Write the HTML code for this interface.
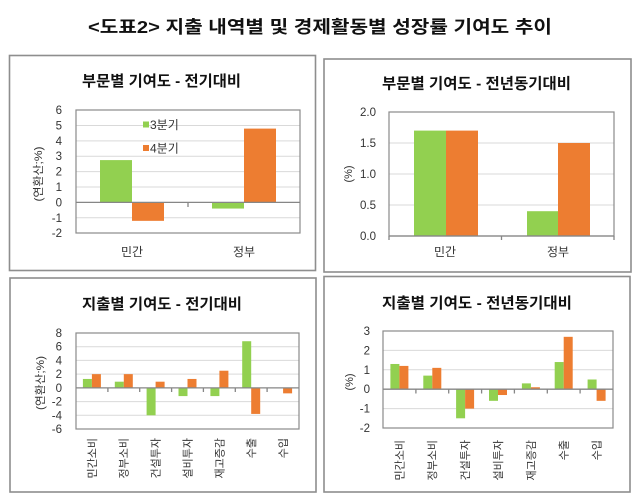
<!DOCTYPE html>
<html><head><meta charset="utf-8"><style>
html,body{margin:0;padding:0;background:#fff;}
svg{display:block;}
text{font-family:"Liberation Sans","Noto Sans CJK KR","NanumGothic",sans-serif;}
.t{font-weight:bold;fill:#111;}
.tk{font-size:11.5px;fill:#333;}
.lb{font-size:12px;fill:#333;}
.xl{font-size:11px;fill:#333;}
.g{fill:#92d050;}
.o{fill:#ed7d31;}
.grid{stroke:#d9d9d9;stroke-width:1;}
.pb{fill:none;stroke:#8a8a8a;stroke-width:1.2;}
.ax{stroke:#868686;stroke-width:1.3;}
.pn{fill:#fff;stroke:#8e8e8e;stroke-width:1.6;}
</style></head><body>
<svg width="639" height="499" viewBox="0 0 639 499" xmlns="http://www.w3.org/2000/svg">
<rect x="0" y="0" width="639" height="499" fill="#fff"/>
<text class="t" x="88" y="33" font-size="17.5" textLength="464" lengthAdjust="spacingAndGlyphs">&lt;도표2&gt; 지출 내역별 및 경제활동별 성장률 기여도 추이</text>

<!-- Panels -->
<rect class="pn" x="9.5" y="55.5" width="306" height="215"/>
<rect class="pn" x="324" y="59" width="307" height="213"/>
<rect class="pn" x="10" y="278" width="306" height="214"/>
<rect class="pn" x="324" y="276.5" width="306" height="215.5"/>

<!-- ========== TL ========== -->
<text class="t" x="82" y="86" font-size="15" textLength="159" lengthAdjust="spacingAndGlyphs">부문별 기여도 - 전기대비</text>
<g>
<line class="grid" x1="76" x2="300" y1="125.5" y2="125.5"/>
<line class="grid" x1="76" x2="300" y1="140.9" y2="140.9"/>
<line class="grid" x1="76" x2="300" y1="156.3" y2="156.3"/>
<line class="grid" x1="76" x2="300" y1="171.6" y2="171.6"/>
<line class="grid" x1="76" x2="300" y1="187.0" y2="187.0"/>
<line class="grid" x1="76" x2="300" y1="217.8" y2="217.8"/>
<rect class="g" x="100" y="160.1" width="32" height="42.3"/>
<rect class="o" x="132" y="202.4" width="32" height="18.45"/>
<rect class="g" x="212" y="202.4" width="32" height="6.15"/>
<rect class="o" x="244" y="128.6" width="32" height="73.8"/>
<rect class="pb" x="76" y="110" width="224" height="123"/>
<line class="ax" x1="76" x2="300" y1="202.4" y2="202.4"/>
<line class="ax" x1="188" x2="188" y1="202.4" y2="207"/>
</g>
<g class="tk" text-anchor="end">
<text x="62" y="114">6</text>
<text x="62" y="129.4">5</text>
<text x="62" y="144.8">4</text>
<text x="62" y="160.2">3</text>
<text x="62" y="175.6">2</text>
<text x="62" y="191">1</text>
<text x="62" y="206.4">0</text>
<text x="62" y="221.8">-1</text>
<text x="62" y="237.2">-2</text>
</g>
<text class="xl" transform="translate(38,174) rotate(-90)" text-anchor="middle" dy="0.35em" textLength="55" lengthAdjust="spacingAndGlyphs">(연환산;%)</text>
<rect class="g" x="143" y="121.5" width="6" height="6"/>
<text class="lb" x="150" y="129">3분기</text>
<rect class="o" x="143" y="145" width="6" height="6"/>
<text class="lb" x="150" y="152.5">4분기</text>
<g class="lb" text-anchor="middle">
<text x="132" y="256">민간</text>
<text x="244" y="256">정부</text>
</g>

<!-- ========== TR ========== -->
<text class="t" x="382" y="88.5" font-size="15" textLength="189" lengthAdjust="spacingAndGlyphs">부문별 기여도 - 전년동기대비</text>
<g>
<line class="grid" x1="389" x2="614" y1="143" y2="143"/>
<line class="grid" x1="389" x2="614" y1="174" y2="174"/>
<line class="grid" x1="389" x2="614" y1="205" y2="205"/>
<rect class="g" x="414" y="130.6" width="32" height="105.4"/>
<rect class="o" x="446" y="130.6" width="32" height="105.4"/>
<rect class="g" x="527" y="211.2" width="31" height="24.8"/>
<rect class="o" x="558" y="143" width="32" height="93"/>
<rect class="pb" x="389" y="112" width="225" height="124"/>
<line class="ax" x1="389" x2="614" y1="236" y2="236"/>
<line class="ax" x1="389" x2="389" y1="236" y2="240"/>
<line class="ax" x1="501.5" x2="501.5" y1="236" y2="240"/>
<line class="ax" x1="614" x2="614" y1="236" y2="240"/>
</g>
<g class="tk" text-anchor="end">
<text x="376" y="116">2.0</text>
<text x="376" y="147">1.5</text>
<text x="376" y="178">1.0</text>
<text x="376" y="209">0.5</text>
<text x="376" y="240">0.0</text>
</g>
<text class="xl" transform="translate(348,174) rotate(-90)" text-anchor="middle" dy="0.35em">(%)</text>
<g class="lb" text-anchor="middle">
<text x="445" y="256">민간</text>
<text x="558" y="256">정부</text>
</g>

<!-- ========== BL ========== -->
<text class="t" x="82" y="309" font-size="15" textLength="160" lengthAdjust="spacingAndGlyphs">지출별 기여도 - 전기대비</text>
<g>
<line class="grid" x1="76" x2="299" y1="346.7" y2="346.7"/>
<line class="grid" x1="76" x2="299" y1="360.4" y2="360.4"/>
<line class="grid" x1="76" x2="299" y1="374.15" y2="374.15"/>
<line class="grid" x1="76" x2="299" y1="401.6" y2="401.6"/>
<line class="grid" x1="76" x2="299" y1="415.3" y2="415.3"/>
<rect class="g" x="82.9" y="378.95" width="9" height="8.91"/>
<rect class="o" x="91.9" y="374.15" width="9" height="13.71"/>
<rect class="g" x="114.8" y="381.69" width="9" height="6.17"/>
<rect class="o" x="123.8" y="374.15" width="9" height="13.71"/>
<rect class="g" x="146.6" y="387.86" width="9" height="27.43"/>
<rect class="o" x="155.6" y="381.69" width="9" height="6.17"/>
<rect class="g" x="178.5" y="387.86" width="9" height="8.23"/>
<rect class="o" x="187.5" y="378.95" width="9" height="8.91"/>
<rect class="g" x="210.4" y="387.86" width="9" height="8.23"/>
<rect class="o" x="219.4" y="370.72" width="9" height="17.14"/>
<rect class="g" x="242.2" y="341.23" width="9" height="46.63"/>
<rect class="o" x="251.2" y="387.86" width="9" height="26.06"/>
<rect class="o" x="283.1" y="387.86" width="9" height="5.49"/>
<rect class="pb" x="76" y="333" width="223" height="96"/>
<line class="ax" x1="76" x2="299" y1="387.86" y2="387.86"/>
<g class="ax">
<line x1="107.9" x2="107.9" y1="387.86" y2="392"/>
<line x1="139.7" x2="139.7" y1="387.86" y2="392"/>
<line x1="171.6" x2="171.6" y1="387.86" y2="392"/>
<line x1="203.4" x2="203.4" y1="387.86" y2="392"/>
<line x1="235.3" x2="235.3" y1="387.86" y2="392"/>
<line x1="267.1" x2="267.1" y1="387.86" y2="392"/>
</g>
</g>
<g class="tk" text-anchor="end">
<text x="62" y="337">8</text>
<text x="62" y="350.7">6</text>
<text x="62" y="364.4">4</text>
<text x="62" y="378.15">2</text>
<text x="62" y="391.9">0</text>
<text x="62" y="405.6">-2</text>
<text x="62" y="419.3">-4</text>
<text x="62" y="433">-6</text>
</g>
<text class="xl" transform="translate(40,383) rotate(-90)" text-anchor="middle" dy="0.35em" textLength="54" lengthAdjust="spacingAndGlyphs">(연환산;%)</text>
<g class="xl" text-anchor="end">
<text transform="translate(91.9,438) rotate(-90)" dy="0.35em">민간소비</text>
<text transform="translate(123.8,438) rotate(-90)" dy="0.35em">정부소비</text>
<text transform="translate(155.6,438) rotate(-90)" dy="0.35em">건설투자</text>
<text transform="translate(187.5,438) rotate(-90)" dy="0.35em">설비투자</text>
<text transform="translate(219.4,438) rotate(-90)" dy="0.35em">재고증감</text>
<text transform="translate(251.2,438) rotate(-90)" dy="0.35em">수출</text>
<text transform="translate(283.1,438) rotate(-90)" dy="0.35em">수입</text>
</g>

<!-- ========== BR ========== -->
<text class="t" x="382" y="308" font-size="15" textLength="190" lengthAdjust="spacingAndGlyphs">지출별 기여도 - 전년동기대비</text>
<g>
<line class="grid" x1="383" x2="613" y1="350.4" y2="350.4"/>
<line class="grid" x1="383" x2="613" y1="369.8" y2="369.8"/>
<line class="grid" x1="383" x2="613" y1="408.6" y2="408.6"/>
<rect class="g" x="390.4" y="363.98" width="9" height="25.22"/>
<rect class="o" x="399.4" y="365.92" width="9" height="23.28"/>
<rect class="g" x="423.3" y="375.62" width="9" height="13.58"/>
<rect class="o" x="432.3" y="367.86" width="9" height="21.34"/>
<rect class="g" x="456.1" y="389.2" width="9" height="29.1"/>
<rect class="o" x="465.1" y="389.2" width="9" height="19.4"/>
<rect class="g" x="489" y="389.2" width="9" height="11.64"/>
<rect class="o" x="498" y="389.2" width="9" height="5.82"/>
<rect class="g" x="521.9" y="383.38" width="9" height="5.82"/>
<rect class="o" x="530.9" y="387.26" width="9" height="1.94"/>
<rect class="g" x="554.7" y="362.04" width="9" height="27.16"/>
<rect class="o" x="563.7" y="336.82" width="9" height="52.38"/>
<rect class="g" x="587.6" y="379.5" width="9" height="9.7"/>
<rect class="o" x="596.6" y="389.2" width="9" height="11.64"/>
<rect class="pb" x="383" y="331" width="230" height="97"/>
<line class="ax" x1="383" x2="613" y1="389.2" y2="389.2"/>
<g class="ax">
<line x1="415.9" x2="415.9" y1="389.2" y2="393.5"/>
<line x1="448.7" x2="448.7" y1="389.2" y2="393.5"/>
<line x1="481.6" x2="481.6" y1="389.2" y2="393.5"/>
<line x1="514.4" x2="514.4" y1="389.2" y2="393.5"/>
<line x1="547.3" x2="547.3" y1="389.2" y2="393.5"/>
<line x1="580.1" x2="580.1" y1="389.2" y2="393.5"/>
</g>
</g>
<g class="tk" text-anchor="end">
<text x="370" y="335">3</text>
<text x="370" y="354.4">2</text>
<text x="370" y="373.8">1</text>
<text x="370" y="393.2">0</text>
<text x="370" y="412.6">-1</text>
<text x="370" y="432">-2</text>
</g>
<text class="xl" transform="translate(349,382) rotate(-90)" text-anchor="middle" dy="0.35em">(%)</text>
<g class="xl" text-anchor="end">
<text transform="translate(399.4,440) rotate(-90)" dy="0.35em">민간소비</text>
<text transform="translate(432.3,440) rotate(-90)" dy="0.35em">정부소비</text>
<text transform="translate(465.1,440) rotate(-90)" dy="0.35em">건설투자</text>
<text transform="translate(498,440) rotate(-90)" dy="0.35em">설비투자</text>
<text transform="translate(530.9,440) rotate(-90)" dy="0.35em">재고증감</text>
<text transform="translate(563.7,440) rotate(-90)" dy="0.35em">수출</text>
<text transform="translate(596.6,440) rotate(-90)" dy="0.35em">수입</text>
</g>
</svg>
</body></html>
